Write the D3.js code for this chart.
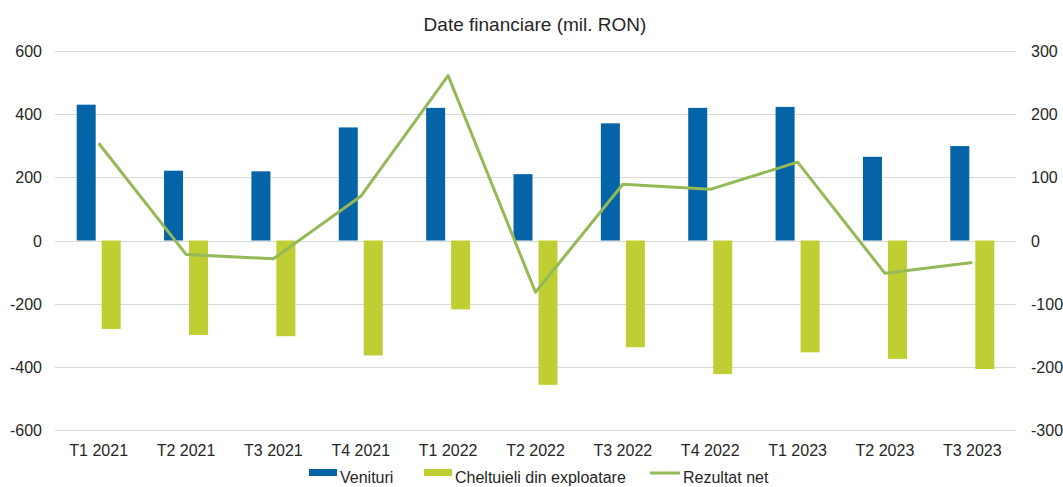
<!DOCTYPE html>
<html>
<meta charset="utf-8">
<style>
  body { margin: 0; background: #fff; }
  svg text { font-family: "Liberation Sans", Arial, sans-serif; fill: #262626; }
</style>
<body>
<svg width="1063" height="487"></svg>
<script src="https://cdn.jsdelivr.net/npm/d3@7"></script>
<script>
// data
const quarters = ["T1 2021", "T2 2021", "T3 2021", "T4 2021", "T1 2022", "T2 2022",
                  "T3 2022", "T4 2022", "T1 2023", "T2 2023", "T3 2023"];
const venituri = [430, 221, 219, 358, 420, 210, 371, 420, 423, 265, 299];
const cheltuieli = [-280, -299, -303, -364, -218, -457, -338, -423, -354, -375, -407];
const rezultatNet = [154, -22, -29, 70, 261, -82, 89, 81, 124, -52, -35];
const leftTicks = [-600, -400, -200, 0, 200, 400, 600];
const rightTicks = [-300, -200, -100, 0, 100, 200, 300];

const svg = d3.select("svg");
const margin = {left: 55, right: 47, top: 51, bottom: 57};
const W = 1063, H = 487;

const x = d3.scaleBand().domain(quarters).range([margin.left, W - margin.right]);
const sub = d3.scaleBand().domain(["v", "c"]).range([-22, 22]).paddingInner(0.24);
const yL = d3.scaleLinear().domain([-600, 600]).range([H - margin.bottom, margin.top]);
const yR = d3.scaleLinear().domain([-300, 300]).range([H - margin.bottom, margin.top]);

// gridlines
svg.append("g").selectAll("line").data(leftTicks).join("line")
  .attr("x1", margin.left).attr("x2", W - margin.right)
  .attr("y1", d => Math.round(yL(d)) + 0.5).attr("y2", d => Math.round(yL(d)) + 0.5)
  .attr("stroke", "#d9d9d9").attr("stroke-width", 1);

// left axis labels
svg.append("g").selectAll("text").data(leftTicks).join("text")
  .attr("x", 42).attr("y", d => yL(d) + 6)
  .attr("text-anchor", "end").attr("font-size", 16)
  .text(d => d);

// right axis labels
svg.append("g").selectAll("text").data(rightTicks).join("text")
  .attr("x", 1031).attr("y", d => yR(d) + 6)
  .attr("text-anchor", "start").attr("font-size", 16)
  .text(d => d);

// bars
const mid = q => x(q) + x.bandwidth() / 2;
svg.append("g").selectAll("rect").data(quarters).join("rect")
  .attr("x", (q, i) => mid(q) + sub("v"))
  .attr("width", sub.bandwidth())
  .attr("y", (q, i) => yL(venituri[i]))
  .attr("height", (q, i) => yL(0) - yL(venituri[i]))
  .attr("fill", "#0563a8");

svg.append("g").selectAll("rect").data(quarters).join("rect")
  .attr("x", (q, i) => mid(q) + sub("c"))
  .attr("width", sub.bandwidth())
  .attr("y", yL(0))
  .attr("height", (q, i) => yL(cheltuieli[i]) - yL(0))
  .attr("fill", "#bfcf33");

// line
const line = d3.line().x((d, i) => mid(quarters[i])).y(d => yR(d));
svg.append("path").datum(rezultatNet)
  .attr("d", line)
  .attr("fill", "none").attr("stroke", "#95b957").attr("stroke-width", 3)
  .attr("stroke-linejoin", "round");

// category labels
svg.append("g").selectAll("text").data(quarters).join("text")
  .attr("x", q => mid(q)).attr("y", 456)
  .attr("text-anchor", "middle").attr("font-size", 16)
  .text(q => q);

// title
svg.append("text").attr("x", 535).attr("y", 31)
  .attr("text-anchor", "middle").attr("font-size", 19)
  .text("Date financiare (mil. RON)");

// legend
const leg = svg.append("g");
leg.append("rect").attr("x", 309).attr("y", 469).attr("width", 28).attr("height", 7).attr("fill", "#0563a8");
leg.append("text").attr("x", 340).attr("y", 483).attr("font-size", 16).text("Venituri");
leg.append("rect").attr("x", 424).attr("y", 469).attr("width", 28).attr("height", 7).attr("fill", "#bfcf33");
leg.append("text").attr("x", 455).attr("y", 483).attr("font-size", 16).text("Cheltuieli din exploatare");
leg.append("line").attr("x1", 650).attr("x2", 680).attr("y1", 473).attr("y2", 473)
  .attr("stroke", "#95b957").attr("stroke-width", 3);
leg.append("text").attr("x", 683).attr("y", 483).attr("font-size", 16).text("Rezultat net");
</script>
</body>
</html>
